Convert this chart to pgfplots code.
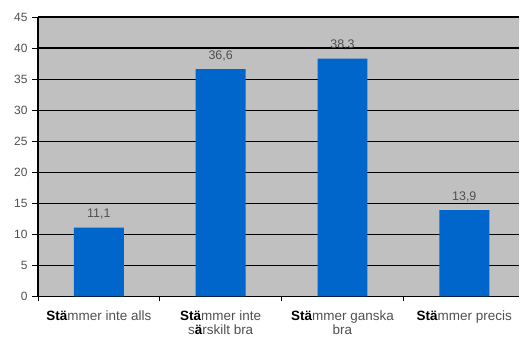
\documentclass[border=0pt]{standalone}
\usepackage{pgfplots}
\pgfplotsset{compat=1.18}
\usepackage{fontspec}
\setmainfont{Liberation Sans}
\definecolor{bgc}{HTML}{C0C0C0}
\definecolor{barc}{HTML}{0066CC}
\definecolor{txt}{HTML}{505050}
\begin{document}
\begin{tikzpicture}
\begin{axis}[
  scale only axis, width=482pt, height=280pt,
  xmin=-0.5, xmax=3.45, ymin=0, ymax=45,
  clip=false,
  axis background/.style={fill=bgc},
  axis x line*=bottom, axis y line*=left,
  axis line style={line width=1.8pt, black},
  ytick={0,5,...,45},
  ymajorgrids, grid style={black, line width=1.1pt},
  tick align=outside,
  major tick length=6pt,
  y tick style={black, line width=0.8pt},
  xtick={0,1,2,3},
  x tick style={draw=none},
  xticklabels={{\textcolor{black}{\textbf{Stä}}mmer inte alls},{\textcolor{black}{\textbf{Stä}}mmer inte\\s\textcolor{black}{\textbf{ä}}rskilt bra},{\textcolor{black}{\textbf{Stä}}mmer ganska\\bra},{\textcolor{black}{\textbf{Stä}}mmer precis}},
  xticklabel style={align=center, font=\fontsize{13.5}{14}\selectfont, text=txt, yshift=-5pt},
  yticklabel style={font=\fontsize{12}{13}\selectfont, text=txt, xshift=-1pt},
  extra x ticks={-0.5,0.5,1.5,2.5},
  extra x tick labels={},
  extra x tick style={grid=none, x tick style={draw=black, line width=0.8pt}, major tick length=5pt},
  /pgf/number format/assume math mode=true,
  nodes near coords,
  nodes near coords style={font=\fontsize{12.5}{13}\selectfont, text=txt, yshift=5pt,
    /pgf/number format/.cd, use comma, fixed, precision=1, fixed zerofill},
]
\addplot[ybar, bar width=0.41, fill=barc, draw=none] coordinates {(0,11.1) (1,36.6) (2,38.3) (3,13.9)};
\end{axis}
\path[use as bounding box] (-38pt,-41pt) rectangle (482pt,297pt);
\end{tikzpicture}
\end{document}
